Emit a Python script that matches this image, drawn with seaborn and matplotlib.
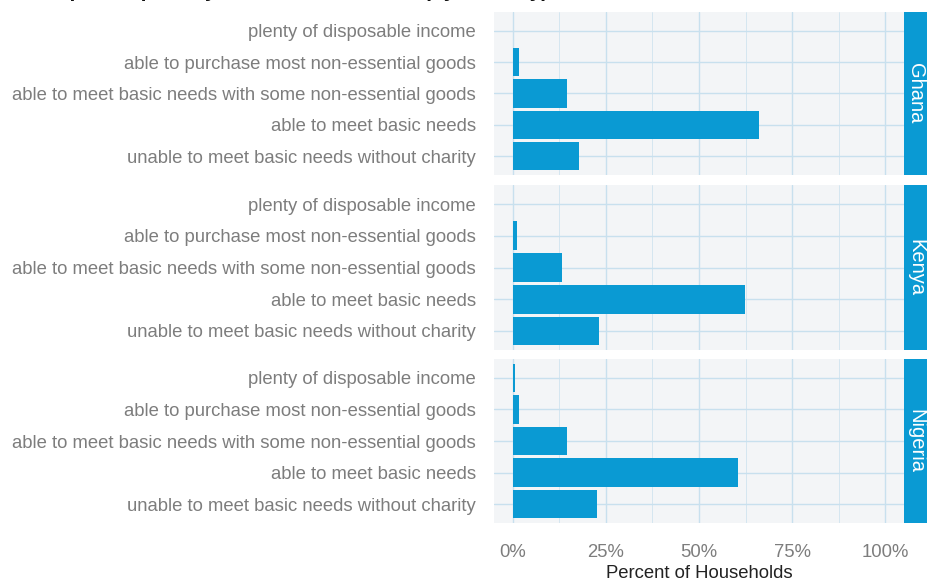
import numpy as np
import pandas as pd
import matplotlib
matplotlib.use('Agg')
import matplotlib.pyplot as plt
import seaborn as sns
from matplotlib.ticker import FixedLocator, PercentFormatter

# Data
countries = ['Ghana', 'Kenya', 'Nigeria']
levels = ['plenty of disposable income',
          'able to purchase most non-essential goods',
          'able to meet basic needs with some non-essential goods',
          'able to meet basic needs',
          'unable to meet basic needs without charity']
ghana = [0.0, 1.7, 14.5, 66.0, 17.9]
kenya = [0.0, 1.3, 13.3, 62.3, 23.1]
nigeria = [0.7, 1.8, 14.7, 60.5, 22.6]
x_ticks = [0, 25, 50, 75, 100]
title = 'Self-reported poverty level of households (by Country)'

rows = []
for c, vals in zip(countries, [ghana, kenya, nigeria]):
    for lvl, v in zip(levels, vals):
        rows.append({'country': c, 'level': lvl, 'pct': v})
df = pd.DataFrame(rows)

blue = '#0a9ad3'
grid_col = '#c8e0ee'
panel_bg = '#f3f5f7'
text_col = '#7d7d7d'

sns.set_style('white')
plt.rcParams['font.family'] = ['Liberation Sans', 'DejaVu Sans']

W, H = 928, 587
fig = plt.figure(figsize=(W / 100, H / 100), dpi=100)

panels = [(12, 175), (185, 350), (359, 523)]
left, right = 494, 904

for i, (c, (top, bot)) in enumerate(zip(countries, panels)):
    ax = fig.add_axes([left / W, 1 - bot / H, (right - left) / W, (bot - top) / H])
    sub = df[df['country'] == c]
    sns.barplot(data=sub, x='pct', y='level', order=levels, color=blue,
                width=0.9, saturation=1, linewidth=0, ax=ax, zorder=3)
    ax.set_facecolor(panel_bg)
    ax.set_xlim(-5, 105)
    ax.set_ylim(4.6, -0.6)
    ax.xaxis.set_major_locator(FixedLocator(x_ticks))
    ax.xaxis.set_minor_locator(FixedLocator([12.5, 37.5, 62.5, 87.5]))
    ax.xaxis.set_major_formatter(PercentFormatter(decimals=0))
    ax.grid(True, which='major', color=grid_col, lw=1.0, zorder=0)
    ax.grid(True, which='minor', axis='x', color=grid_col, lw=0.5, zorder=0)
    ax.set_axisbelow(True)
    for s in ax.spines.values():
        s.set_visible(False)
    ax.set_ylabel('')
    ax.set_xlabel('')
    ax.tick_params(axis='y', length=10, color=grid_col, width=1.0, pad=3,
                   labelsize=13.3, labelcolor=text_col)
    ax.tick_params(axis='x', which='both', length=0, labelsize=13.3,
                   labelcolor=text_col, pad=15)
    if i < 2:
        ax.tick_params(axis='x', labelbottom=False)
    else:
        ax.set_xlabel('Percent of Households', fontsize=13.3, color='#222222',
                      labelpad=3)

    # facet strip on the right
    sax = fig.add_axes([right / W, 1 - bot / H, (W - right) / W, (bot - top) / H])
    sax.set_facecolor(blue)
    sax.set_xticks([])
    sax.set_yticks([])
    for s in sax.spines.values():
        s.set_visible(False)
    sax.text(0.5, 0.5, c, rotation=270, color='white', fontsize=14.5,
             ha='center', va='center', transform=sax.transAxes)

fig.text(0.004, 1 - 1 / H, title, fontsize=15, fontweight='bold',
         ha='left', va='bottom', color='#111111')

fig.savefig('out.png', dpi=100)
